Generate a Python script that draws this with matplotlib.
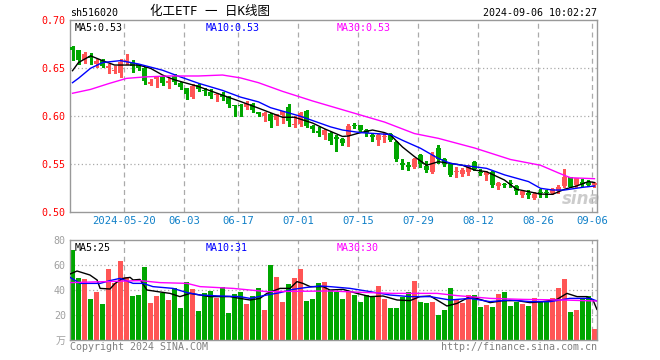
import matplotlib
matplotlib.use('Agg')
import matplotlib.pyplot as plt
import numpy as np

# daily candles, 88 trading days 2024-05-07 .. 2024-09-06
opens = [0.672, 0.669, 0.659, 0.663, 0.654, 0.659, 0.650, 0.647, 0.645, 0.657,
         0.656, 0.654, 0.650, 0.634, 0.639, 0.641, 0.635, 0.642, 0.635, 0.629,
         0.620, 0.633, 0.627, 0.625, 0.622, 0.623, 0.620, 0.612, 0.612, 0.610,
         0.613, 0.604, 0.600, 0.602, 0.596, 0.601, 0.610, 0.591, 0.592, 0.606,
         0.590, 0.585, 0.581, 0.583, 0.578, 0.576, 0.581, 0.591, 0.591, 0.586,
         0.581, 0.575, 0.578, 0.582, 0.573, 0.551, 0.549, 0.547, 0.560, 0.548,
         0.542, 0.567, 0.556, 0.550, 0.542, 0.540, 0.542, 0.552, 0.542, 0.539,
         0.542, 0.527, 0.5295, 0.531, 0.527, 0.518, 0.520, 0.515, 0.521, 0.521,
         0.5205, 0.5225, 0.5274, 0.5365, 0.5288, 0.5316, 0.532, 0.528]
highs = [0.673, 0.669, 0.667, 0.666, 0.660, 0.660, 0.655, 0.652, 0.660, 0.665,
         0.659, 0.655, 0.651, 0.639, 0.642, 0.642, 0.640, 0.644, 0.636, 0.630,
         0.634, 0.634, 0.630, 0.628, 0.624, 0.625, 0.621, 0.612, 0.613, 0.616,
         0.614, 0.605, 0.604, 0.603, 0.602, 0.606, 0.613, 0.600, 0.605, 0.607,
         0.591, 0.589, 0.587, 0.584, 0.581, 0.577, 0.592, 0.593, 0.591, 0.587,
         0.582, 0.582, 0.583, 0.583, 0.574, 0.556, 0.552, 0.557, 0.561, 0.553,
         0.563, 0.570, 0.557, 0.550, 0.547, 0.546, 0.549, 0.553, 0.545, 0.543,
         0.543, 0.532, 0.531, 0.534, 0.528, 0.523, 0.523, 0.521, 0.5245, 0.523,
         0.525, 0.528, 0.545, 0.537, 0.536, 0.535, 0.534, 0.532]
lows = [0.659, 0.655, 0.656, 0.654, 0.651, 0.651, 0.645, 0.645, 0.641, 0.655,
        0.646, 0.648, 0.634, 0.633, 0.631, 0.633, 0.630, 0.634, 0.628, 0.618,
        0.619, 0.626, 0.622, 0.619, 0.616, 0.617, 0.610, 0.600, 0.600, 0.608,
        0.604, 0.600, 0.595, 0.589, 0.591, 0.593, 0.590, 0.589, 0.590, 0.589,
        0.584, 0.580, 0.576, 0.571, 0.564, 0.570, 0.569, 0.588, 0.585, 0.579,
        0.574, 0.570, 0.573, 0.574, 0.553, 0.545, 0.544, 0.546, 0.547, 0.542,
        0.541, 0.551, 0.548, 0.538, 0.537, 0.538, 0.539, 0.544, 0.539, 0.534,
        0.526, 0.524, 0.5265, 0.526, 0.519, 0.516, 0.515, 0.514, 0.516, 0.516,
        0.519, 0.5205, 0.526, 0.526, 0.526, 0.527, 0.527, 0.526]
closes = [0.669, 0.659, 0.665, 0.661, 0.658, 0.652, 0.652, 0.648, 0.657, 0.659,
          0.652, 0.650, 0.637, 0.636, 0.641, 0.635, 0.637, 0.636, 0.630, 0.623,
          0.632, 0.628, 0.626, 0.621, 0.623, 0.620, 0.613, 0.611, 0.611, 0.614,
          0.607, 0.602, 0.603, 0.595, 0.601, 0.605, 0.595, 0.592, 0.603, 0.590,
          0.587, 0.583, 0.586, 0.574, 0.576, 0.572, 0.590, 0.590, 0.586, 0.583,
          0.578, 0.581, 0.579, 0.575, 0.555, 0.549, 0.547, 0.556, 0.550, 0.544,
          0.560, 0.555, 0.550, 0.539, 0.543, 0.544, 0.548, 0.545, 0.541, 0.542,
          0.528, 0.531, 0.528, 0.529, 0.522, 0.522, 0.518, 0.519, 0.520, 0.520,
          0.524, 0.5267, 0.5365, 0.5267, 0.5357, 0.530, 0.528, 0.530]
volumes = [72, 49.6, 48.8, 32.8, 38.4, 28.8, 56.8, 45.6, 63.2, 50.4,
           35.2, 36, 58.4, 29.6, 35.2, 37.6, 32, 41.6, 25.6, 46.4,
           40.8, 23.2, 37.6, 39.2, 33.6, 42.4, 21.6, 36.8, 38.4, 28.8,
           35.2, 41.6, 24, 60, 50.4, 30.4, 44.8, 49.6, 56.8, 31.2,
           32.8, 45.6, 46.4, 40, 38.4, 32.8, 39.2, 36, 30.4, 36,
           35.2, 43.2, 32.8, 25.6, 25.6, 34.4, 38.4, 47.2, 30.4, 29.6,
           30.4, 20, 24, 41.6, 32, 29.6, 36, 36, 26.4, 28,
           26.4, 36.8, 38.4, 27.2, 30.4, 28.8, 27.2, 33.6, 30.4, 30.4,
           33.6, 41.6, 48.8, 22.4, 24, 32.8, 35.2, 8.8]

tick_pos = [9, 19, 28, 38, 48, 58, 68, 78, 87]
tick_lab = ['2024-05-20', '06-03', '06-17', '07-01', '07-15', '07-29', '08-12', '08-26', '09-06']

# moving averages as drawn (sampled off the chart)
ma5_x = [0, 1, 3, 5, 7, 11, 13, 15, 17, 21, 25, 28, 31, 33, 35, 37, 40, 42, 45, 46,
         48, 50, 52, 53, 55, 57, 59, 61, 63, 65, 67, 69, 72, 74, 78, 80, 82, 84, 86, 87]
ma5_v = [0.6475, 0.656, 0.663, 0.658, 0.6534, 0.6534, 0.650, 0.643, 0.638, 0.631,
         0.622, 0.6154, 0.6085, 0.6037, 0.599, 0.599, 0.593, 0.587, 0.579, 0.5795,
         0.583, 0.5857, 0.583, 0.5805, 0.568, 0.558, 0.549, 0.5527, 0.551, 0.549,
         0.544, 0.5423, 0.5336, 0.524, 0.519, 0.5187, 0.524, 0.5274, 0.532, 0.531]
ma10_x = [0, 1, 3, 5, 8, 11, 15, 18, 21, 25, 28, 31, 33, 38, 43, 45, 48, 53, 55, 58,
          61, 63, 65, 69, 72, 76, 78, 80, 82, 85, 87]
ma10_v = [0.635, 0.6396, 0.650, 0.656, 0.658, 0.6545, 0.648, 0.641, 0.6344, 0.627,
          0.620, 0.615, 0.609, 0.600, 0.589, 0.5857, 0.583, 0.581, 0.575, 0.5667,
          0.556, 0.551, 0.549, 0.5458, 0.539, 0.532, 0.525, 0.5232, 0.5232, 0.526, 0.5274]
ma30_x = [0, 3, 6, 9, 12, 16, 21, 25, 28, 31, 35, 40, 46, 52, 57, 61, 67, 73, 78, 81, 83, 87]
ma30_v = [0.624, 0.628, 0.634, 0.6395, 0.641, 0.642, 0.642, 0.643, 0.640, 0.635, 0.626,
          0.616, 0.605, 0.594, 0.582, 0.577, 0.567, 0.555, 0.549, 0.541, 0.536, 0.535]

vma5_x = [-0.4, 0.75, 2.9, 4.1, 4.6, 6.25, 7.1, 8.4, 9.6, 10.1, 11.25, 12.4, 14.6, 16.25,
          17.9, 19.6, 21.25, 22.9, 26.25, 27.9, 29.6, 31.25, 32.4, 34.6, 36.25, 37.4,
          38.4, 39.6, 41.75, 42.9, 45.1, 47.4, 49.6, 51.75, 54.1, 56.25, 57.9, 59.6,
          60.75, 62.4, 64.1, 66.25, 67.4, 69.6, 71.75, 74.1, 76.25, 78.4, 80.75, 82.4,
          84.1, 85.75, 86.75, 87.4]
vma5_v = [52.8, 55.2, 52, 48, 41.3, 40.8, 45.3, 49.3, 50.1, 48, 48.5, 40, 38.4, 37.3,
          34.7, 37.3, 36, 34.7, 34.7, 33.3, 32, 33.3, 37.3, 41.3, 41.3, 46.7,
          45.3, 42.7, 42.7, 40, 40.5, 37.3, 34.7, 35.2, 32, 31.5, 34.7, 35.2,
          32, 27.2, 29.3, 34.7, 33.3, 29.9, 31.5, 31.5, 29.9, 30.7, 32.5, 37.3,
          34.7, 34.7, 32, 24.5]
vma10_x = [-0.4, 1.25, 4.6, 6.25, 7.9, 10.1, 11.75, 13.4, 16.75, 19.1, 21.25, 24.6, 27.9,
           29.6, 32.4, 34.6, 36.75, 39.1, 41.25, 42.9, 46.25, 49.6, 52.9, 56.25, 59.6,
           62.9, 66.25, 69.6, 72.9, 76.25, 79.6, 82.9, 86.25, 87.4]
vma10_v = [50.1, 45.3, 45.3, 47.5, 49.3, 45.3, 45.3, 42.7, 41.3, 37.9, 36, 35.2, 34.7,
           33.3, 36, 37.9, 40.5, 42.1, 43.2, 42.7, 41.3, 38.7, 36, 34.7, 34.7,
           32, 33.3, 30.7, 32, 30.7, 30.7, 33.3, 33.3, 31.2]
vma30_x = [-0.4, 11.25, 14.6, 19.1, 21.25, 26.75, 32.4, 42.9, 48.4, 53.4, 60.75, 64.1,
           69.6, 75.1, 81.75, 87.4]
vma30_v = [45.9, 47.5, 45.9, 45.3, 42.7, 41.3, 38.7, 39.2, 38.1, 37.3, 37.3, 35.5,
           33.3, 32.5, 32, 31.2]

RED = '#FF5555'
GREEN = '#00A600'
GRID = '#AAAAAA'
MONO = 'DejaVu Sans Mono'

o = np.array(opens); c = np.array(closes)
h = np.array(highs); l = np.array(lows)
x = np.arange(len(o))
up = c >= o
cols = np.where(up, RED, GREEN)

fig = plt.figure(figsize=(6.6, 3.6), dpi=100)
W, H = 660.0, 360.0
ax = fig.add_axes([70 / W, 1 - 212.3 / H, 527 / W, 192 / H])
av = fig.add_axes([70 / W, 1 - 340 / H, 527 / W, 100 / H])

for a in (ax, av):
    a.set_xlim(-0.4167, 87.4167)
    for s in a.spines.values():
        s.set_color('#999999')
        s.set_linewidth(1)
    for t in tick_pos:
        a.axvline(t - 0.42, color=GRID, lw=0.9, ls=(0, (4, 3)), zorder=0)

# price panel
ax.set_ylim(0.50, 0.70)
for yy in [0.55, 0.60, 0.65]:
    ax.axhline(yy, color=GRID, lw=0.9, ls=(0, (1, 2)), zorder=0)
ax.vlines(x, l, h, colors=cols, lw=1, antialiased=False, zorder=2)
body = np.maximum(np.abs(c - o), 0.0011)
ax.bar(x, body, bottom=np.minimum(o, c), width=0.8, color=cols, linewidth=0,
       antialiased=False, zorder=3)
ax.plot(ma5_x, ma5_v, color='black', lw=1, zorder=4)
ax.plot(ma10_x, ma10_v, color='#0000FF', lw=1, zorder=4)
ax.plot(ma30_x, ma30_v, color='#FF00FF', lw=1, zorder=4)

ax.set_yticks([0.50, 0.55, 0.60, 0.65, 0.70])
ax.set_yticklabels(['0.50', '0.55', '0.60', '0.65', '0.70'], color='#FF0000',
                   family=MONO, fontsize=7.2)
ax.set_xticks([t - 0.42 for t in tick_pos])
ax.set_xticklabels(tick_lab, color='#1080C8', family=MONO, fontsize=7.6)
ax.tick_params(length=0, pad=3)

ax.text(0.008, 0.985, 'MA5:0.53', transform=ax.transAxes, va='top', ha='left',
        family=MONO, fontsize=7.2, color='black')
ax.text(0.257, 0.985, 'MA10:0.53', transform=ax.transAxes, va='top', ha='left',
        family=MONO, fontsize=7.2, color='#0000FF')
ax.text(0.505, 0.985, 'MA30:0.53', transform=ax.transAxes, va='top', ha='left',
        family=MONO, fontsize=7.2, color='#FF00FF')
ax.text(0.97, 0.07, 'sina', transform=ax.transAxes, ha='center', va='center',
        fontsize=12, style='italic', weight='bold', color='#C0C0C0', alpha=0.8, zorder=1)

# volume panel
av.set_ylim(0, 80)
for yy in [20, 40, 60]:
    av.axhline(yy, color=GRID, lw=0.9, ls=(0, (1, 2)), zorder=0)
av.bar(x, volumes, width=0.83, color=cols, linewidth=0, antialiased=False, zorder=2)
av.plot(vma5_x, vma5_v, color='black', lw=1, zorder=4)
av.plot(vma10_x, vma10_v, color='#0000FF', lw=1, zorder=4)
av.plot(vma30_x, vma30_v, color='#FF00FF', lw=1, zorder=4)
av.set_yticks([0, 20, 40, 60, 80])
av.set_yticklabels(['万', '20', '40', '60', '80'], color='#A0A0A0', fontsize=7.2,
                   family=[MONO, 'Noto Sans CJK SC'])
av.set_xticks([])
av.tick_params(length=0, pad=3)

av.text(0.008, 0.97, 'MA5:25', transform=av.transAxes, va='top', ha='left',
        family=MONO, fontsize=7.2, color='black')
av.text(0.257, 0.97, 'MA10:31', transform=av.transAxes, va='top', ha='left',
        family=MONO, fontsize=7.2, color='#0000FF')
av.text(0.505, 0.97, 'MA30:30', transform=av.transAxes, va='top', ha='left',
        family=MONO, fontsize=7.2, color='#FF00FF')

# header / footer
fig.text(70 / W, 1 - 13 / H, 'sh516020', family=MONO, fontsize=7.2, va='center', ha='left')
fig.text(210 / W, 1 - 12 / H, '化工ETF 一 日K线图', family=[MONO, 'Noto Sans CJK SC'],
         fontsize=9, va='center', ha='center')
fig.text(597 / W, 1 - 13 / H, '2024-09-06 10:02:27', family=MONO, fontsize=7.2,
         va='center', ha='right')
fig.text(70 / W, 1 - 347 / H, 'Copyright 2024 SINA.COM', family=MONO, fontsize=7.2,
         va='center', ha='left', color='#808080')
fig.text(597 / W, 1 - 347 / H, 'http://finance.sina.com.cn', family=MONO, fontsize=7.2,
         va='center', ha='right', color='#808080')

fig.savefig('out.png', dpi=100, facecolor='white')
